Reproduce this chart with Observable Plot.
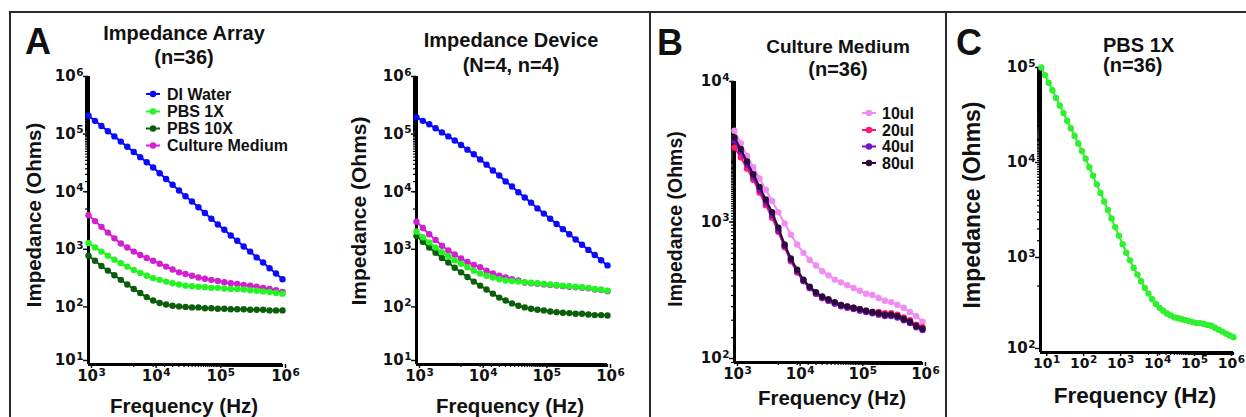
<!DOCTYPE html>
<html><head><meta charset="utf-8">
<script src="https://cdn.jsdelivr.net/npm/d3@7"></script>
<script src="https://cdn.jsdelivr.net/npm/@observablehq/plot@0.6"></script>
<style>
html,body{margin:0;padding:0;background:#fff;}
#fig{position:relative;width:1246px;height:417px;overflow:hidden;background:#fff;}
.rule{position:absolute;background:#2a2a2a;}
</style></head><body><div id="fig"></div>
<script>
// ---------------- data ----------------
const freqAB = [1000, 1259, 1585, 1995, 2512, 3162, 3981, 5012, 6310, 7943, 10000, 12589, 15849, 19953, 25119, 31623, 39811, 50119, 63096, 79433, 100000, 125893, 158489, 199526, 251189, 316228, 398107, 501187, 630957, 794328, 1000000];

// Panel A – Impedance Array (n=36)
const arrayDI = [209000,170000,138000,112000,91200,74100,60300,49000,39800,32400,26300,20900,16600,13200,10500,8320,6760,5370,4270,3390,2690,2190,1740,1410,1120,912,724,589,468,380,302];
const arrayPBS1X = [1288,1072,912,776,661,575,501,437,389,347,316,295,275,257,245,234,229,224,219,214,214,209,204,204,200,195,191,186,182,174,170];
const arrayPBS10X = [776,631,513,427,355,295,245,204,174,148,129,117,110,105,102,100,98,98,95,95,93,93,91,91,91,89,89,89,87,87,87];
const arrayCM = [3890,3090,2455,1950,1549,1259,1072,912,794,708,631,562,501,447,398,372,347,324,309,295,282,269,257,251,240,234,224,214,204,195,182];

// Panel A – Impedance Device (N=4, n=4)
const deviceDI = [195000,170000,148000,126000,107000,91200,77600,64600,53700,44700,36300,29500,23400,19100,15100,12300,9770,7940,6460,5130,4170,3390,2750,2240,1820,1480,1200,977,794,646,525];
const devicePBS1X = [2040,1620,1320,1070,891,759,646,562,490,427,380,347,324,302,288,282,275,269,263,257,251,245,240,234,229,224,219,214,204,200,191];
const devicePBS10X = [1700,1350,1070,871,708,589,479,398,331,275,234,200,170,145,129,115,105,98,93,89,87,83,81,79,78,76,76,74,72,72,71];
const deviceCM = [3020,2340,1820,1450,1150,955,813,692,603,537,490,427,380,347,324,302,288,264,258,252,246,240,235,229,224,220,215,210,200,196,187];

// Panel B – Culture Medium volumes (n=36)
const medium10ul = [4467,3631,2951,2455,2042,1698,1413,1175,977,813,692,603,537,490,447,417,389,372,355,339,324,309,302,288,275,269,257,245,229,214,195];
const medium20ul = [3388,2884,2399,1995,1622,1318,1072,851,661,525,437,380,339,309,288,275,263,257,251,245,240,234,229,229,224,224,219,209,200,186,178];
const medium40ul = [3802,3162,2570,2089,1698,1380,1122,871,676,537,447,380,339,309,288,275,263,251,245,240,234,229,224,219,214,214,209,200,191,178,170];
const medium80ul = [3981,3311,2692,2188,1778,1445,1175,912,692,550,457,389,347,316,295,282,269,257,251,245,240,234,229,224,219,219,214,204,195,182,174];

// Panel C – PBS 1X wide band (n=36)
const freqC = [6.31, 7.94, 10, 12.59, 15.85, 19.95, 25.12, 31.62, 39.81, 50.12, 63.1, 79.43, 100, 125.9, 158.5, 199.5, 251.2, 316.2, 398.1, 501.2, 631, 794.3, 1000, 1259, 1585, 1995, 2512, 3162, 3981, 5012, 6310, 7943, 10000, 12589, 15849, 19953, 25119, 31623, 39811, 50119, 63096, 79433, 100000, 125893, 158489, 199526, 251189, 316228, 398107, 501187, 630957, 794328, 1000000];
const widePBS1X = [100000,83180,69180,57540,47860,39810,33110,27540,22910,19050,15850,13180,10960,8913,7244,5888,4786,3890,3162,2570,2089,1698,1380,1122,933,776,661,562,479,417,363,324,295,275,257,245,234,229,224,219,214,209,204,204,200,195,191,182,174,166,158,151,145];

// axis tick values
const ticksA_y = [1e1, 1e2, 1e3, 1e4, 1e5, 1e6];
const ticksA_x = [1e3, 1e4, 1e5, 1e6];
const ticksB_y = [1e2, 1e3, 1e4];
const ticksC_y = [1e2, 1e3, 1e4, 1e5];
const ticksC_x = [1e1, 1e2, 1e3, 1e4, 1e5, 1e6];

const namesA = ["DI Water", "PBS 1X", "PBS 10X", "Culture Medium"];
const colorsA = ["#0a0aff", "#22f522", "#0b5e0b", "#d21fd2"];
const namesB = ["10ul", "20ul", "40ul", "80ul"];
const colorsB = ["#f08cf3", "#ff1a6e", "#7a12c2", "#2c0a3e"];
const colorC = "#2ff02f";

// ---------------- drawing ----------------
const W = 1246, H = 417;
const fig = document.getElementById("fig");
const sup = {1: "\u00b9", 2: "\u00b2", 3: "\u00b3", 4: "\u2074", 5: "\u2075", 6: "\u2076"};
const supRev = Object.fromEntries(Object.entries(sup).map(([k, v]) => [v, k]));
const fmtPow = d => "10" + sup[Math.round(Math.log10(d))];
const tickFont = {fontWeight: "bold", fontFamily: "DejaVu Sans", color: "#111", label: null};

function panel(p) {
  const xfs = p.xFont || 15;
  const marks = [
    Plot.axisY({ticks: 200, tickSize: 3, tickFormat: () => "", label: null, strokeWidth: 1.2, color: "#000"}),
    Plot.axisX({ticks: 200, tickSize: 3, tickFormat: () => "", label: null, strokeWidth: 1.2, color: "#000"}),
    Plot.axisY({ticks: p.yTicks.slice(1), tickSize: 5, tickPadding: 0, tickFormat: fmtPow, strokeWidth: 1.5, fontSize: 15, ...tickFont}),
    Plot.axisY({ticks: p.yTicks.slice(0, 1), tickSize: 5, tickPadding: 0, dy: -4, tickFormat: fmtPow, strokeWidth: 1.5, fontSize: 15, ...tickFont}),
    Plot.axisX({ticks: p.xTicks, tickSize: 4, tickPadding: 2, dx: p.xDx ?? 3, tickFormat: fmtPow, strokeWidth: 1.5, fontSize: xfs, ...tickFont}),
    Plot.ruleX([p.xDomain[0]], {stroke: "#000", strokeWidth: 3}),
    Plot.ruleY([p.yDomain[0]], {stroke: "#000", strokeWidth: 3})
  ];
  for (const s of p.series) {
    const rows = s.values.map((z, i) => ({f: p.freq[i], z}));
    marks.push(Plot.line(rows, {x: "f", y: "z", stroke: s.color, strokeWidth: 2}));
    marks.push(Plot.dot(rows, {x: "f", y: "z", fill: s.color, r: 3.2}));
  }
  const svg = Plot.plot({
    width: W, height: H,
    marginLeft: p.box[0], marginRight: W - p.box[1], marginTop: p.box[2], marginBottom: H - p.box[3],
    x: {type: "log", domain: p.xDomain},
    y: {type: "log", domain: p.yDomain},
    marks,
    style: {position: "absolute", left: "0px", top: "0px", background: "transparent", overflow: "visible", maxWidth: "none"}
  });
  // turn "10³" into "10" + raised smaller exponent
  svg.querySelectorAll("text").forEach(t => {
    const m = /^10(.)$/.exec(t.textContent);
    if (!m || !supRev[m[1]]) return;
    t.textContent = "10";
    const ts = document.createElementNS("http://www.w3.org/2000/svg", "tspan");
    ts.setAttribute("font-size", "10.5");
    ts.setAttribute("dy", "-5.5");
    ts.setAttribute("dx", "0.5");
    ts.textContent = supRev[m[1]];
    t.appendChild(ts);
  });
  fig.appendChild(svg);
}

// frame lines
[[9, 11, 1237, 2], [9, 11, 2, 406], [649, 11, 2, 406], [945, 11, 2, 406]].forEach(([l, t, w, h]) => {
  const d = document.createElement("div");
  d.className = "rule";
  Object.assign(d.style, {left: l + "px", top: t + "px", width: w + "px", height: h + "px"});
  fig.appendChild(d);
});

panel({box: [88, 282, 76, 364], xDomain: [1e3, 1e6], yDomain: [1e1, 1e6], xTicks: ticksA_x, yTicks: ticksA_y, freq: freqAB,
  series: [
    {values: arrayCM, color: colorsA[3]},
    {values: arrayDI, color: colorsA[0]},
    {values: arrayPBS10X, color: colorsA[2]},
    {values: arrayPBS1X, color: colorsA[1]}
  ]});
panel({box: [416, 607, 76, 364], xDomain: [1e3, 1e6], yDomain: [1e1, 1e6], xTicks: ticksA_x, yTicks: ticksA_y, freq: freqAB,
  series: [
    {values: deviceCM, color: colorsA[3]},
    {values: deviceDI, color: colorsA[0]},
    {values: devicePBS10X, color: colorsA[2]},
    {values: devicePBS1X, color: colorsA[1]}
  ]});
panel({box: [734, 922, 81, 362], xDomain: [1e3, 1e6], yDomain: [1e2, 1e4], xTicks: ticksA_x, yTicks: ticksB_y, freq: freqAB,
  series: [
    {values: medium10ul, color: colorsB[0]},
    {values: medium20ul, color: colorsB[1]},
    {values: medium40ul, color: colorsB[2]},
    {values: medium80ul, color: colorsB[3]}
  ]});
panel({box: [1040, 1233, 67, 352], xDomain: [6, 1e6], yDomain: [1e2, 1e5], xTicks: ticksC_x, yTicks: ticksC_y, freq: freqC,
  xFont: 14, xDx: -2,
  series: [{values: widePBS1X, color: colorC}]});

// ---------------- text overlay ----------------
const ov = d3.select(fig).append("svg")
  .attr("width", W).attr("height", H)
  .style("position", "absolute").style("left", "0px").style("top", "0px")
  .attr("font-family", "'Liberation Sans', Arial, sans-serif").attr("font-weight", "bold").attr("fill", "#111");

function txt(x, y, s, size, anchor = "middle", rot = false) {
  const t = ov.append("text").attr("font-size", size).attr("text-anchor", anchor).text(s);
  if (rot) t.attr("transform", `translate(${x},${y}) rotate(-90)`);
  else t.attr("x", x).attr("y", y);
}
// panel letters
txt(25, 54, "A", 36, "start");
txt(657, 55, "B", 36, "start");
txt(956, 55, "C", 36, "start");
// titles
txt(184, 40, "Impedance Array", 20);
txt(184, 64, "(n=36)", 20);
txt(511, 47, "Impedance Device", 20);
txt(511, 72, "(N=4, n=4)", 20);
txt(838, 53, "Culture Medium", 19);
txt(838, 76, "(n=36)", 20);
txt(1103, 52, "PBS 1X", 20, "start");
txt(1103, 72, "(n=36)", 20, "start");
// axis titles
txt(41, 215, "Impedance (Ohms)", 20.5, "middle", true);
txt(366, 211, "Impedance (Ohms)", 21, "middle", true);
txt(682, 219, "Impedance (Ohms)", 19.5, "middle", true);
txt(980, 205, "Impedance (Ohms)", 23, "middle", true);
txt(184, 413, "Frequency (Hz)", 20.5);
txt(510, 413, "Frequency (Hz)", 20.5);
txt(832, 405, "Frequency (Hz)", 20.5);
txt(1135, 403, "Frequency (Hz)", 22.5);

// legends
function legend(x0, xt, ys, names, colors) {
  names.forEach((n, i) => {
    const y = ys[i];
    ov.append("line").attr("x1", x0 - 7).attr("x2", x0 + 7).attr("y1", y).attr("y2", y).attr("stroke", colors[i]).attr("stroke-width", 2);
    ov.append("circle").attr("cx", x0).attr("cy", y).attr("r", 3.2).attr("fill", colors[i]);
    txt(xt, y + 5.7, n, 16, "start");
  });
}
legend(153, 167, [94, 111.5, 128.5, 145.5], namesA, colorsA);
legend(869, 882, [113, 130, 146.5, 163], namesB, colorsB);
</script></body></html>
